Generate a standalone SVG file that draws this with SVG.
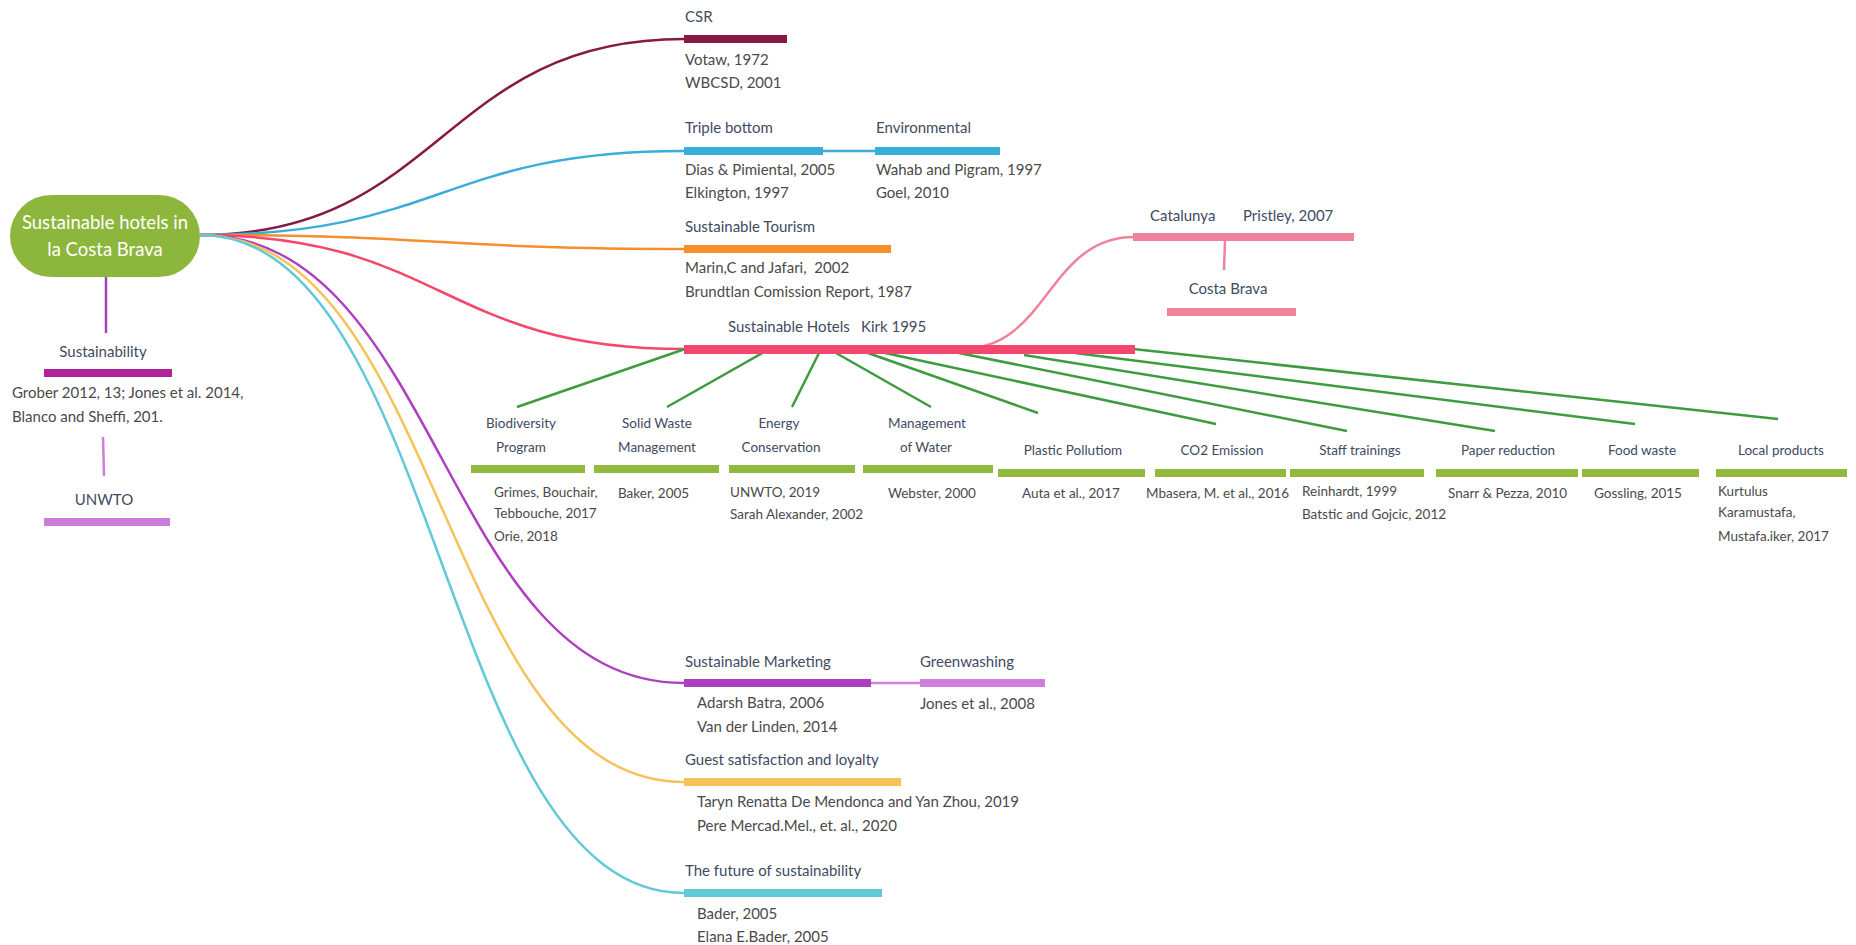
<svg xmlns="http://www.w3.org/2000/svg" width="1856" height="945" viewBox="0 0 1856 945">
<style>
text{font-family:Lato,"Open Sans","Liberation Sans",sans-serif;white-space:pre}
.lbl{font-size:15px;fill:#3f4b5f}
.ref{font-size:15px;fill:#4a4a4a}
.cl{font-size:13.5px;fill:#3f4b5f;text-anchor:middle}
.cr{font-size:13.5px;fill:#4a4a4a}
.root{font-size:18.5px;fill:#ffffff;text-anchor:middle}
.c{fill:none;stroke-width:2.5}
.g{stroke:#3d9c3f;stroke-width:2.5;fill:none}
.gb{fill:#93ba40}
</style>
<g id="connectors">
<path class="c" stroke="#871a42" d="M200,235 C442,235 442,39 684,39"/>
<path class="c" stroke="#3aaed8" d="M200,235 C442,235 442,151 684,151"/>
<path class="c" stroke="#3aaed8" d="M820,151 L876,151"/>
<path class="c" stroke="#f58f2c" d="M200,235 C442,235 442,249 684,249"/>
<path class="c" stroke="#f5466e" d="M200,235 C442,235 442,349 684,349"/>
<path class="c" stroke="#ae3fc1" d="M200,235 C442,235 442,683 684,683"/>
<path class="c" stroke="#d07edb" d="M868,683 L921,683"/>
<path class="c" stroke="#f5c35a" d="M200,235 C442,235 442,782 684,782"/>
<path class="c" stroke="#62c9d6" d="M200,235 C442,235 442,893 684,893"/>
<path class="c" stroke="#ee849b" d="M962,349 C1048,349 1048,237 1134,237"/>
<path class="c" stroke="#ee849b" d="M1225,241 L1224,270"/>
<path class="c" stroke="#a640b8" d="M106,277 L106,333"/>
<path class="c" stroke="#d07edb" d="M103,437 L104,476"/>
<path class="g" d="M685,349 L517,407"/>
<path class="g" d="M764,352 L667,407"/>
<path class="g" d="M819,353 L792,407"/>
<path class="g" d="M836,353 L931,407"/>
<path class="g" d="M868,353 L1038,413"/>
<path class="g" d="M885,353 L1216,424"/>
<path class="g" d="M959,353 L1347,431"/>
<path class="g" d="M1024,355 L1495,431"/>
<path class="g" d="M1075,353 L1635,424"/>
<path class="g" d="M1133,349 L1778,419"/>
</g>
<g id="root">
<rect x="10" y="195" width="190" height="82" rx="41" fill="#8db63c"/>
<text class="root" x="105" y="229">Sustainable hotels in</text>
<text class="root" x="105" y="256">la Costa Brava</text>
</g>
<g id="sustainability">
<text class="lbl" x="103" y="357" text-anchor="middle">Sustainability</text>
<rect x="44" y="369" width="128" height="8" fill="#b0229a"/>
<text class="ref" x="12" y="398">Grober 2012, 13; Jones et al. 2014,</text>
<text class="ref" x="12" y="422">Blanco and Sheffi, 201.</text>
</g>
<g id="unwto">
<text class="lbl" x="104" y="505" text-anchor="middle">UNWTO</text>
<rect x="44" y="518" width="126" height="8" fill="#cc7ddb"/>
</g>
<g id="csr">
<text class="lbl" x="685" y="22">CSR</text>
<rect x="684" y="35" width="103" height="8" fill="#871a42"/>
<text class="ref" x="685" y="65">Votaw, 1972</text>
<text class="ref" x="685" y="88">WBCSD, 2001</text>
</g>
<g id="triple-bottom">
<text class="lbl" x="685" y="133">Triple bottom</text>
<rect x="684" y="147" width="139" height="8" fill="#3aaed8"/>
<text class="ref" x="685" y="175">Dias &amp; Pimiental, 2005</text>
<text class="ref" x="685" y="198">Elkington, 1997</text>
</g>
<g id="environmental">
<text class="lbl" x="876" y="133">Environmental</text>
<rect x="875" y="147" width="125" height="8" fill="#3aaed8"/>
<text class="ref" x="876" y="175">Wahab and Pigram, 1997</text>
<text class="ref" x="876" y="198">Goel, 2010</text>
</g>
<g id="sustainable-tourism">
<text class="lbl" x="685" y="232">Sustainable Tourism</text>
<rect x="684" y="245" width="207" height="8" fill="#f58f2c"/>
<text class="ref" x="685" y="273">Marin,C and Jafari,  2002</text>
<text class="ref" x="685" y="297">Brundtlan Comission Report, 1987</text>
</g>
<g id="sustainable-hotels">
<text class="lbl" x="728" y="332">Sustainable Hotels<tspan x="861">Kirk 1995</tspan></text>
<rect x="684" y="345" width="451" height="9" fill="#f5466e"/>
</g>
<g id="catalunya">
<text class="lbl" x="1150" y="221">Catalunya<tspan x="1243">Pristley, 2007</tspan></text>
<rect x="1133" y="233" width="221" height="8" fill="#ee849b"/>
</g>
<g id="costa-brava">
<text class="lbl" x="1228" y="294" text-anchor="middle">Costa Brava</text>
<rect x="1167" y="308" width="129" height="8" fill="#ee849b"/>
</g>
<g id="biodiversity">
<text class="cl" x="521" y="428">Biodiversity</text>
<text class="cl" x="521" y="452">Program</text>
<rect class="gb" x="471" y="465" width="114" height="8"/>
<text class="cr" x="494" y="497">Grimes, Bouchair,</text>
<text class="cr" x="494" y="518">Tebbouche, 2017</text>
<text class="cr" x="494" y="541">Orie, 2018</text>
</g>
<g id="solid-waste">
<text class="cl" x="657" y="428">Solid Waste</text>
<text class="cl" x="657" y="452">Management</text>
<rect class="gb" x="594" y="465" width="125" height="8"/>
<text class="cr" x="618" y="498">Baker, 2005</text>
</g>
<g id="energy">
<text class="cl" x="779" y="428">Energy</text>
<text class="cl" x="781" y="452">Conservation</text>
<rect class="gb" x="729" y="465" width="126" height="8"/>
<text class="cr" x="730" y="497">UNWTO, 2019</text>
<text class="cr" x="730" y="519">Sarah Alexander, 2002</text>
</g>
<g id="water">
<text class="cl" x="927" y="428">Management</text>
<text class="cl" x="926" y="452">of Water</text>
<rect class="gb" x="863" y="465" width="130" height="8"/>
<text class="cr" x="888" y="498">Webster, 2000</text>
</g>
<g id="plastic">
<text class="cl" x="1073" y="455">Plastic Pollutiom</text>
<rect class="gb" x="998" y="469" width="147" height="8"/>
<text class="cr" x="1022" y="498">Auta et al., 2017</text>
</g>
<g id="co2">
<text class="cl" x="1222" y="455">CO2 Emission</text>
<rect class="gb" x="1155" y="469" width="131" height="8"/>
<text class="cr" x="1146" y="498">Mbasera, M. et al., 2016</text>
</g>
<g id="staff">
<text class="cl" x="1360" y="455">Staff trainings</text>
<rect class="gb" x="1290" y="469" width="134" height="8"/>
<text class="cr" x="1302" y="496">Reinhardt, 1999</text>
<text class="cr" x="1302" y="519">Batstic and Gojcic, 2012</text>
</g>
<g id="paper">
<text class="cl" x="1508" y="455">Paper reduction</text>
<rect class="gb" x="1436" y="469" width="142" height="8"/>
<text class="cr" x="1448" y="498">Snarr &amp; Pezza, 2010</text>
</g>
<g id="food">
<text class="cl" x="1642" y="455">Food waste</text>
<rect class="gb" x="1582" y="469" width="117" height="8"/>
<text class="cr" x="1594" y="498">Gossling, 2015</text>
</g>
<g id="local">
<text class="cl" x="1781" y="455">Local products</text>
<rect class="gb" x="1716" y="469" width="131" height="8"/>
<text class="cr" x="1718" y="496">Kurtulus</text>
<text class="cr" x="1718" y="517">Karamustafa,</text>
<text class="cr" x="1718" y="541">Mustafa.iker, 2017</text>
</g>
<g id="marketing">
<text class="lbl" x="685" y="667">Sustainable Marketing</text>
<rect x="684" y="679" width="187" height="8" fill="#ae3fc1"/>
<text class="ref" x="697" y="708">Adarsh Batra, 2006</text>
<text class="ref" x="697" y="732">Van der Linden, 2014</text>
</g>
<g id="greenwashing">
<text class="lbl" x="920" y="667">Greenwashing</text>
<rect x="920" y="679" width="125" height="8" fill="#d07edb"/>
<text class="ref" x="920" y="709">Jones et al., 2008</text>
</g>
<g id="guest">
<text class="lbl" x="685" y="765">Guest satisfaction and loyalty</text>
<rect x="684" y="778" width="217" height="8" fill="#f5c35a"/>
<text class="ref" x="697" y="807">Taryn Renatta De Mendonca and Yan Zhou, 2019</text>
<text class="ref" x="697" y="831">Pere Mercad.Mel., et. al., 2020</text>
</g>
<g id="future">
<text class="lbl" x="685" y="876">The future of sustainability</text>
<rect x="684" y="889" width="198" height="8" fill="#62c9d6"/>
<text class="ref" x="697" y="919">Bader, 2005</text>
<text class="ref" x="697" y="942">Elana E.Bader, 2005</text>
</g>
</svg>
